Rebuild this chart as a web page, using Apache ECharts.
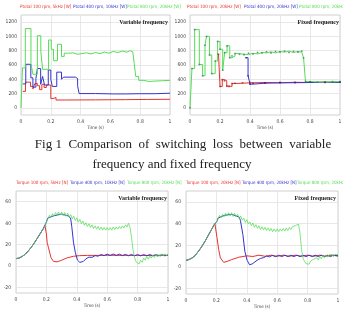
<!DOCTYPE html>
<html>
<head>
    <meta charset="utf-8" />
    <title></title>
    <script type="text/javascript" src="https://cdn.jsdelivr.net/npm/echarts@6/dist/echarts.min.js"></script>
    <style>
        html, body { margin: 0; padding: 0; background: #fff; }
        #main { width: 343px; height: 317px; }
    </style>
</head>
<body>
    <div id="main"></div>
    <script type="text/javascript">
        // time ticks shared by all four plots
        var timeTicks = [0, 0.2, 0.4, 0.6, 0.8, 1];
        var powerTicks = [0, 200, 400, 600, 800, 1000, 1200];
        var torqueTicks = [-20, 0, 20, 40, 60];

        // switching loss, variable frequency [t, W]
        var pVarRed = [[0.012, 230], [0.03, 360], [0.064, 300], [0.08, 265], [0.093, 340], [0.11, 310], [0.125, 255], [0.14, 330], [0.155, 285], [0.17, 320], [0.2, 130], [0.215, 145], [0.235, 110], [0.3, 112], [0.5, 115], [0.7, 118], [0.85, 120], [1, 120]];
        var pVarBlue = [[0.012, 335], [0.032, 610], [0.066, 420], [0.08, 290], [0.1, 410], [0.11, 550], [0.132, 330], [0.145, 440], [0.158, 320], [0.183, 530], [0.2, 400], [0.21, 300], [0.24, 500], [0.272, 400], [0.285, 430], [0.365, 410], [0.38, 310], [0.39, 200], [0.5, 195], [0.62, 195], [0.7, 198], [0.8, 198], [0.9, 205], [1, 210]];
        var pVarGreen = [[0, 0], [0.01, 560], [0.029, 1110], [0.067, 620], [0.08, 470], [0.11, 1010], [0.133, 790], [0.145, 540], [0.185, 950], [0.203, 820], [0.218, 660], [0.245, 890], [0.272, 720], [0.29, 765], [0.32, 770], [0.35, 750], [0.38, 760], [0.41, 770], [0.44, 755], [0.47, 775], [0.5, 760], [0.53, 780], [0.56, 765], [0.59, 790], [0.62, 775], [0.65, 795], [0.68, 780], [0.71, 800], [0.73, 785], [0.75, 800], [0.76, 620], [0.77, 440], [0.79, 385], [0.82, 370], [0.86, 375], [0.9, 380], [0.95, 385], [1, 385]];

        // switching loss, fixed frequency [t, W]
        var pFixRed = [[0.19, 750], [0.2, 300], [0.215, 395], [0.23, 380], [0.245, 305], [0.26, 300], [0.28, 340], [0.3, 345], [0.35, 350], [0.4, 355], [0.5, 352], [0.6, 358], [0.7, 355], [0.8, 360], [0.9, 358], [1, 362]];
        var pFixBlue = [[0.373, 702], [0.387, 450], [0.4, 332], [0.42, 345], [0.5, 350], [0.6, 352], [0.7, 355], [0.8, 358], [0.9, 356], [1, 360]];
        var pFixGreen = [[0, 0], [0.013, 550], [0.031, 1096], [0.062, 607], [0.084, 450], [0.1, 877], [0.11, 1000], [0.13, 740], [0.145, 479], [0.168, 655], [0.184, 930], [0.2, 820], [0.218, 527], [0.231, 773], [0.247, 868], [0.265, 702], [0.28, 725], [0.3, 760], [0.33, 750], [0.36, 745], [0.39, 765], [0.42, 755], [0.45, 775], [0.48, 770], [0.51, 785], [0.54, 770], [0.57, 790], [0.6, 780], [0.63, 795], [0.66, 775], [0.69, 790], [0.72, 780], [0.745, 795], [0.757, 700], [0.77, 370], [0.8, 362], [0.85, 360], [0.9, 365], [0.95, 368], [1, 370]];

        // torque, variable frequency [t, N]
        var tVarRise = [[0, 7], [0.02, 7.5], [0.04, 9], [0.06, 11], [0.08, 14], [0.1, 17.5], [0.12, 21.5], [0.14, 26], [0.16, 30.5], [0.18, 35], [0.19, 38]];
        var tVarRed = [[0.193, 39.5], [0.2, 30], [0.205, 22], [0.214, 17], [0.23, 8], [0.247, 4.4], [0.27, 4], [0.3, 5.5], [0.334, 7.6], [0.378, 9.2], [0.42, 9.8], [0.47, 10], [0.6, 10.1], [0.8, 10], [1, 10]];
        var tVarBlue = [[0.2, 41], [0.21, 45], [0.25, 47], [0.3, 48.5], [0.35, 46.5], [0.36, 44], [0.367, 36.7], [0.378, 22.4], [0.39, 13], [0.404, 5.7], [0.42, 3.5], [0.443, 4.4], [0.46, 6.8], [0.48, 8.4], [0.5, 8.2], [0.52, 9.8], [0.54, 9.3], [0.56, 10.8], [0.58, 9.8], [0.6, 11.2], [0.62, 10], [0.64, 11.3], [0.66, 10], [0.68, 11.2], [0.7, 9.8], [0.72, 11], [0.74, 9.7], [0.76, 10.9], [0.78, 9.6], [0.8, 10.8], [0.82, 9.6], [0.84, 10.8], [0.86, 9.6], [0.88, 10.8], [0.9, 9.6], [0.92, 10.8], [0.94, 9.6], [0.96, 10.8], [0.98, 9.6], [1, 10.6]];
        var tVarGreen = [[0.2, 41.4], [0.21, 44], [0.22, 47.5], [0.23, 45.5], [0.24, 49], [0.25, 46.5], [0.26, 50], [0.27, 47.5], [0.28, 50.5], [0.29, 47.5], [0.3, 50.5], [0.31, 47], [0.32, 50], [0.33, 46.5], [0.34, 49.5], [0.35, 45.5], [0.36, 48], [0.37, 44], [0.38, 46.5], [0.39, 42.5], [0.4, 45], [0.41, 41], [0.42, 43.5], [0.43, 39.5], [0.44, 42], [0.45, 38], [0.46, 40.5], [0.47, 37], [0.48, 39.5], [0.49, 36], [0.5, 38.5], [0.51, 35], [0.52, 37.5], [0.53, 34.5], [0.54, 37], [0.55, 34], [0.56, 36.5], [0.57, 33.5], [0.58, 36], [0.59, 33.5], [0.6, 36], [0.61, 33.5], [0.62, 36], [0.63, 33.5], [0.64, 36.5], [0.65, 34], [0.66, 36.5], [0.67, 34.5], [0.68, 37], [0.69, 35], [0.7, 37.5], [0.71, 35.5], [0.72, 38.5], [0.73, 36.5], [0.74, 40], [0.75, 36], [0.76, 27], [0.77, 15], [0.78, 8], [0.79, 4], [0.8, 3.5], [0.81, 2], [0.82, 5.5], [0.83, 3.5], [0.84, 7.5], [0.85, 5.5], [0.86, 9], [0.87, 6.5], [0.88, 9.5], [0.89, 7.5], [0.9, 10.5], [0.91, 8], [0.92, 11], [0.93, 8.5], [0.94, 11], [0.95, 9], [0.96, 11.5], [0.97, 9.5], [0.98, 11.5], [0.99, 9.5], [1, 11.5]];

        // torque, fixed frequency [t, N]
        var tFixRise = [[0, 6], [0.02, 6.8], [0.04, 8.2], [0.06, 10.5], [0.083, 14.6], [0.1, 18], [0.127, 24], [0.15, 30], [0.17, 35], [0.19, 40]];
        var tFixRed = [[0.195, 40], [0.204, 27], [0.215, 16], [0.226, 8.3], [0.248, 4.2], [0.27, 5], [0.3, 6.7], [0.347, 8.9], [0.4, 10.2], [0.44, 9.6], [0.48, 10.8], [0.52, 9.8], [0.56, 10.8], [0.6, 9.8], [0.64, 10.8], [0.68, 9.8], [0.72, 10.8], [0.76, 9.8], [0.8, 10.8], [0.84, 9.8], [0.88, 10.8], [0.92, 9.8], [0.96, 10.8], [1, 10]];
        var tFixBlue = [[0.205, 42], [0.21, 45], [0.25, 47.5], [0.3, 48.5], [0.35, 46], [0.358, 42.8], [0.374, 30], [0.387, 14.6], [0.402, 6.1], [0.418, 2], [0.435, 2.7], [0.468, 6.1], [0.49, 7.8], [0.512, 8.6], [0.53, 10], [0.55, 9.2], [0.567, 10.6], [0.59, 9.4], [0.61, 10.8], [0.63, 9.5], [0.65, 10.8], [0.67, 9.5], [0.69, 10.8], [0.71, 9.5], [0.73, 10.8], [0.75, 9.5], [0.77, 10.8], [0.79, 9.5], [0.81, 10.8], [0.83, 9.5], [0.85, 10.8], [0.87, 9.5], [0.89, 10.8], [0.91, 9.5], [0.93, 10.8], [0.95, 9.5], [0.97, 10.8], [1, 10.2]];
        var tFixGreen = [[0.205, 42], [0.21, 44.5], [0.22, 47.5], [0.23, 45], [0.24, 48.5], [0.25, 46], [0.26, 49.5], [0.27, 47], [0.28, 50], [0.29, 47], [0.3, 50], [0.31, 46.5], [0.32, 49.5], [0.33, 46], [0.34, 48.5], [0.35, 44.5], [0.36, 47], [0.37, 43], [0.38, 45], [0.39, 41], [0.4, 43.5], [0.41, 39.5], [0.42, 41.5], [0.43, 38], [0.44, 40.5], [0.45, 36.5], [0.46, 39], [0.47, 35.5], [0.48, 38], [0.49, 34.5], [0.5, 37], [0.51, 34], [0.52, 36.5], [0.53, 33.5], [0.54, 36], [0.55, 33], [0.56, 35.5], [0.57, 32.5], [0.58, 35], [0.59, 32.5], [0.6, 35], [0.61, 32.5], [0.62, 35], [0.63, 33], [0.64, 35.5], [0.65, 33], [0.66, 36], [0.67, 33.5], [0.68, 36.5], [0.69, 34.5], [0.7, 37], [0.71, 35.5], [0.72, 38], [0.73, 36.5], [0.74, 39.5], [0.75, 31], [0.76, 16], [0.77, 8], [0.78, 5], [0.79, 3], [0.8, 3.5], [0.81, 2.5], [0.82, 5.5], [0.83, 4], [0.84, 7], [0.85, 5.5], [0.86, 8.5], [0.87, 6.5], [0.88, 9.5], [0.89, 7.5], [0.9, 10.5], [0.91, 8.5], [0.92, 11], [0.93, 9], [0.94, 11], [0.95, 9.5], [0.96, 11.5], [0.97, 9.5], [0.98, 11.5], [0.99, 10], [1, 11.5]];

        var RED = '#e8332c', BLUE = '#3434d0', GREEN = '#55dd55';
        var legendFont = '"Liberation Sans Narrow", "DejaVu Sans Condensed", "Liberation Sans", sans-serif';
        var serif = '"Liberation Serif", "DejaVu Serif", serif';

        var grids = [
            { left: 21, right: 173, top: 15, bottom: 202 },
            { left: 190, right: 3, top: 15, bottom: 202 },
            { left: 16, right: 175, top: 191, bottom: 24 },
            { left: 186, right: 5, top: 191, bottom: 23 }
        ];
        grids.forEach(function (g) {
            g.show = true;
            g.borderColor = '#c4c4c4';
            g.borderWidth = 0.8;
            g.outerBoundsMode = 'none';
        });

        var xAxes = grids.map(function (g, i) {
            return {
                type: 'value', gridIndex: i, min: 0, max: 1, interval: 0.2,
                name: 'Time (s)', nameLocation: 'middle', nameGap: 10,
                nameTextStyle: { fontSize: 4.5, color: '#444', fontFamily: legendFont },
                axisLine: { show: false }, axisTick: { show: false },
                axisLabel: { fontSize: 5, color: '#444', margin: 4, fontFamily: legendFont,
                    formatter: function (v) { return timeTicks.indexOf(+v.toFixed(1)) >= 0 ? +v.toFixed(1) : ''; } },
                splitLine: { show: true, lineStyle: { color: '#e2e2e2', width: 0.8 } }
            };
        });

        function powerAxis(i) {
            return {
                type: 'value', gridIndex: i, min: -100, max: 1300, interval: 100,
                axisLine: { show: false }, axisTick: { show: false },
                axisLabel: { fontSize: 5, color: '#444', margin: 4, fontFamily: legendFont,
                    formatter: function (v) { return powerTicks.indexOf(v) >= 0 ? v : ''; } },
                splitLine: { show: true, lineStyle: { color: ['rgba(0,0,0,0)', '#e2e2e2'], width: 0.8 } }
            };
        }
        function torqueAxis(i) {
            return {
                type: 'value', gridIndex: i, min: -25, max: 70, interval: 5,
                axisLine: { show: false }, axisTick: { show: false },
                axisLabel: { fontSize: 5, color: '#444', margin: 5, fontFamily: legendFont,
                    formatter: function (v) { return torqueTicks.indexOf(v) >= 0 ? v : ''; } },
                splitLine: { show: true, lineStyle: { color: ['rgba(0,0,0,0)', '#e2e2e2', 'rgba(0,0,0,0)', 'rgba(0,0,0,0)'], width: 0.8 } }
            };
        }
        var yAxes = [powerAxis(0), powerAxis(1), torqueAxis(2), torqueAxis(3)];

        function line(name, data, color, idx, extra) {
            var s = {
                name: name, type: 'line', xAxisIndex: idx, yAxisIndex: idx, data: data,
                showSymbol: false, symbol: 'none', animation: false,
                lineStyle: { color: color, width: 1 }, itemStyle: { color: color }
            };
            for (var k in extra) s[k] = extra[k];
            return s;
        }
        function marked(dark) {
            return { step: 'end', symbol: 'rect', showSymbol: true, symbolSize: 1.6, itemStyle: { color: dark, opacity: 0.8 } };
        }

        var series = [
            line('Ptotal 100 rpm, 5kHz [W]', pVarRed, RED, 0, { step: 'end' }),
            line('Ptotal 400 rpm, 10kHz [W]', pVarBlue, BLUE, 0, { step: 'end' }),
            line('Ptotal 800 rpm, 20kHz [W]', pVarGreen, GREEN, 0, { step: 'end' }),
            line('Ptotal 100 rpm, 20kHz [W]', pFixRed, RED, 1, marked('#a02020')),
            line('Ptotal 400 rpm, 20kHz [W]', pFixBlue, BLUE, 1, marked('#20208a')),
            line('Ptotal 800 rpm, 20kHz [W]', pFixGreen, GREEN, 1, marked('#3a8060')),
            line('Torque 100 rpm, 5kHz [N]', tVarRise.concat(tVarRed), RED, 2),
            line('Torque 400 rpm, 10kHz [N]', tVarRise.concat(tVarBlue), BLUE, 2),
            line('Torque 800 rpm, 20kHz [N]', tVarRise.concat(tVarGreen), GREEN, 2, { lineStyle: { color: GREEN, width: 1, opacity: 0.75 } }),
            line('Torque 100 rpm, 20kHz [N]', tFixRise.concat(tFixRed), RED, 3),
            line('Torque 400 rpm, 20kHz [N]', tFixRise.concat(tFixBlue), BLUE, 3),
            line('Torque 800 rpm, 20kHz [N]', tFixRise.concat(tFixGreen), GREEN, 3, { lineStyle: { color: GREEN, width: 1, opacity: 0.75 } })
        ];

        // one legend entry per label so each sits where the reference puts it
        var legendSpots = [
            ['Ptotal 100 rpm, 5kHz [W]', RED, 20, 4], ['Ptotal 400 rpm, 10kHz [W]', BLUE, 73, 4], ['Ptotal 800 rpm, 20kHz [W]', GREEN, 127, 4],
            ['Ptotal 100 rpm, 20kHz [W]', RED, 187, 4], ['Ptotal 400 rpm, 20kHz [W]', BLUE, 244, 4], ['Ptotal 800 rpm, 20kHz [W]', GREEN, 299, 4],
            ['Torque 100 rpm, 5kHz [N]', RED, 16, 180], ['Torque 400 rpm, 10kHz [N]', BLUE, 70, 180], ['Torque 800 rpm, 20kHz [N]', GREEN, 127, 180],
            ['Torque 100 rpm, 20kHz [N]', RED, 186, 180], ['Torque 400 rpm, 20kHz [N]', BLUE, 242, 180], ['Torque 800 rpm, 20kHz [N]', GREEN, 297, 180]
        ];
        var legends = legendSpots.map(function (l) {
            return {
                left: l[2] - 5, top: l[3], padding: 0, itemGap: 0, itemWidth: 0, itemHeight: 0, icon: 'none',
                selectedMode: false,
                data: [{ name: l[0], textStyle: { color: l[1] } }],
                textStyle: { fontSize: 4.5, fontFamily: legendFont, color: l[1] }
            };
        });

        var tag = { fontSize: 6, fontWeight: 'bold', fontFamily: serif, color: '#222' };
        var caption = { fontSize: 13, fontWeight: 'normal', fontFamily: serif, color: '#222' };
        var titles = [
            { text: 'Variable frequency', right: 175, top: 19, padding: 0, textStyle: tag },
            { text: 'Fixed frequency', right: 4, top: 19, padding: 0, textStyle: tag },
            { text: 'Variable frequency', right: 176, top: 195, padding: 0, textStyle: tag },
            { text: 'Fixed frequency', right: 7, top: 195, padding: 0, textStyle: tag },
            { text: 'Fig 1  Comparison  of  switching  loss  between  variable', left: 183, textAlign: 'center', top: 138, padding: 0, textStyle: caption },
            { text: 'frequency and fixed frequency', left: 172, textAlign: 'center', top: 158, padding: 0, textStyle: caption }
        ];

        var myChart = echarts.init(document.getElementById('main'), null, { renderer: 'canvas' });
        var option = {
            backgroundColor: '#fff',
            animation: false,
            title: titles,
            legend: legends,
            grid: grids,
            xAxis: xAxes,
            yAxis: yAxes,
            series: series
        };
        option && myChart.setOption(option);
    </script>
</body>
</html>
